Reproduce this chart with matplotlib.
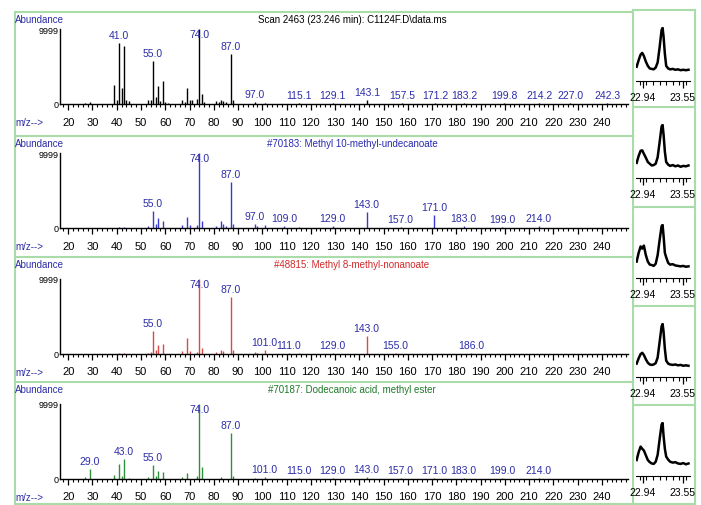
import matplotlib
matplotlib.use("Agg")
import matplotlib.pyplot as plt
from matplotlib.ticker import FixedLocator

W, H = 701, 506
plt.rcParams["font.family"] = ["Liberation Sans", "DejaVu Sans"]

# ---------------- spectra: m/z and relative abundance (%) ----------------
scan_mz = [27, 29, 39, 40, 41, 42, 43, 44, 45, 53, 54, 55, 56, 57, 58, 59, 60, 61,
           67, 68, 69, 70, 71, 73, 74, 75, 76, 81, 82, 83, 84, 85, 87, 88, 97.0, 101,
           115.1, 129.1, 143.1, 157.5, 171.2, 183.2, 199.8, 214.2, 227.0, 242.3]
scan_ab = [2, 3, 25, 5, 81, 22, 77, 5, 4, 5, 6, 58, 9, 24, 4, 31, 3, 2,
           6, 3, 21, 6, 5, 7, 100, 13, 3, 4, 3, 6, 4, 3, 67, 6, 3, 2,
           1.5, 1.5, 5, 1, 1.5, 1, 1, 1.5, 1, 1]
scan_lbl = [41.0, 55.0, 74.0, 87.0, 97.0, 115.1, 129.1, 143.1, 157.5, 171.2,
            183.2, 199.8, 214.2, 227.0, 242.3]

hit1_mz = [41, 43, 53, 55, 56, 57, 59, 67, 69, 70, 73, 74, 75, 81, 83, 84, 85, 87,
           88, 97, 98, 101, 109, 115, 129, 143, 157, 171, 183, 199, 214]
hit1_ab = [2, 2, 3, 23, 5, 13, 10, 4, 15, 4, 4, 100, 9, 3, 9, 5, 3, 62,
           6, 5, 3, 4, 3, 1, 3, 21, 2, 17, 3, 1.5, 3]
hit1_lbl = [55, 74, 87, 97, 109, 129, 143, 157, 171, 183, 199, 214]

hit2_mz = [41, 43, 53, 54, 55, 56, 57, 59, 67, 69, 70, 73, 74, 75, 81, 83, 84, 87,
           88, 97, 98, 101, 111, 115, 129, 143, 155, 186]
hit2_ab = [2, 2, 2, 3, 31, 5, 12, 14, 4, 22, 4, 3, 100, 8, 3, 6, 4, 76,
           5, 3, 2, 5, 2, 1, 2, 24, 2, 1]
hit2_lbl = [55, 74, 87, 101, 111, 129, 143, 155, 186]

hit3_mz = [27, 29, 39, 41, 42, 43, 45, 53, 55, 56, 57, 59, 67, 69, 73, 74, 75, 83,
           87, 88, 97, 101, 115, 129, 143, 157, 171, 183, 199, 214]
hit3_ab = [3, 13, 5, 20, 4, 27, 2, 3, 19, 4, 11, 9, 3, 8, 4, 100, 16, 3,
           62, 4, 2, 3, 1.5, 2, 3, 1, 2, 2, 1, 2]
hit3_lbl = [29, 43, 55, 74, 87, 101, 115, 129, 143, 157, 171, 183, 199, 214]

titles = ["Scan 2463 (23.246 min): C1124F.D\\data.ms",
          "#70183: Methyl 10-methyl-undecanoate",
          "#48815: Methyl 8-methyl-nonanoate",
          "#70187: Dodecanoic acid, methyl ester"]
title_colors = ["black", "#2a2ab0", "#d02a2a", "#1f7a2a"]
bar_colors = ["black", "#3a3ad0", "#d84a4a", "#2f8f3a"]

# ---------------- ion chromatograms (normalised) ----------------
rt = [22.85, 22.88, 22.91, 22.935, 22.96, 22.99, 23.02, 23.05, 23.08, 23.11,
      23.14, 23.17, 23.20, 23.23, 23.245, 23.26, 23.28, 23.30, 23.33, 23.36,
      23.40, 23.44, 23.48, 23.52, 23.56, 23.60, 23.64]
tic = [
    [0.10, 0.25, 0.38, 0.42, 0.35, 0.22, 0.12, 0.06, 0.05, 0.04, 0.08, 0.20, 0.55,
     0.95, 1.00, 0.80, 0.40, 0.12, 0.06, 0.04, 0.05, 0.03, 0.04, 0.02, 0.03, 0.02, 0.03],
    [0.12, 0.28, 0.40, 0.41, 0.33, 0.24, 0.14, 0.10, 0.06, 0.07, 0.10, 0.25, 0.60,
     0.96, 1.00, 0.78, 0.38, 0.14, 0.08, 0.05, 0.07, 0.04, 0.06, 0.03, 0.05, 0.04, 0.06],
    [0.15, 0.35, 0.50, 0.45, 0.52, 0.30, 0.15, 0.08, 0.07, 0.05, 0.10, 0.30, 0.65,
     0.97, 1.00, 0.75, 0.35, 0.25, 0.12, 0.08, 0.09, 0.06, 0.05, 0.04, 0.05, 0.03, 0.04],
    [0.08, 0.20, 0.30, 0.33, 0.28, 0.18, 0.10, 0.06, 0.05, 0.06, 0.09, 0.22, 0.58,
     0.94, 1.00, 0.82, 0.42, 0.15, 0.08, 0.06, 0.05, 0.06, 0.04, 0.05, 0.03, 0.04, 0.03],
    [0.14, 0.32, 0.45, 0.40, 0.36, 0.25, 0.14, 0.09, 0.06, 0.05, 0.10, 0.26, 0.62,
     0.96, 1.00, 0.70, 0.40, 0.22, 0.15, 0.10, 0.08, 0.09, 0.06, 0.05, 0.07, 0.04, 0.06],
]

spectra = [(scan_mz, scan_ab, scan_lbl), (hit1_mz, hit1_ab, hit1_lbl),
           (hit2_mz, hit2_ab, hit2_lbl), (hit3_mz, hit3_ab, hit3_lbl)]

fig = plt.figure(figsize=(W / 100, H / 100), dpi=100)


def axes_px(x0, y0, x1, y1):
    return fig.add_axes([x0 / W, 1 - y1 / H, (x1 - x0) / W, (y1 - y0) / H])


# background layer in pixel coordinates: frames and loose text
bg = axes_px(0, 0, W, H)
bg.set_xlim(0, W)
bg.set_ylim(H, 0)
bg.axis("off")
bg.set_zorder(-1)

frame = "#a9dca9"
panel_tops = [13, 137, 258, 383, 505]
for y in panel_tops:
    bg.plot([15, 633], [y, y], color=frame, lw=1.5)
bg.plot([15, 15], [13, 505], color=frame, lw=1.5)
box_tops = [11, 108, 208, 307, 406, 505]
for y in box_tops:
    bg.plot([633, 695], [y, y], color=frame, lw=1.5)
bg.plot([633, 633], [11, 505], color=frame, lw=1.5)
bg.plot([695, 695], [11, 505], color=frame, lw=1.5)

label_blue = "#2c2ca8"
baselines = [105, 229, 355, 480]

for i, (mz, ab, lbl) in enumerate(spectra):
    base = baselines[i]
    top = panel_tops[i]
    ax = axes_px(60, base - 75, 628, base)
    ax.vlines(mz, 0, ab, color=bar_colors[i], lw=1.0)
    for m in lbl:
        h = ab[mz.index(m)]
        if h >= 95:
            ax.text(m, h, f"{m:.1f}", ha="center", va="top", fontsize=7.5,
                    color=label_blue, clip_on=False)
        else:
            ax.annotate(f"{m:.1f}", (m, h), xytext=(0, 2), textcoords="offset points",
                        ha="center", va="bottom", fontsize=7.5, color=label_blue,
                        annotation_clip=False)
    ax.set_xlim(16.6, 250.8)
    ax.set_ylim(0, 100)
    for s in ["top", "right"]:
        ax.spines[s].set_visible(False)
    ax.spines["left"].set_linewidth(1.0)
    ax.spines["bottom"].set_linewidth(1.0)
    ax.xaxis.set_major_locator(FixedLocator(list(range(20, 250, 10))))
    ax.xaxis.set_minor_locator(FixedLocator(list(range(18, 251, 2))))
    ax.tick_params(axis="x", which="major", length=4, width=0.9, pad=5, labelsize=8)
    ax.tick_params(axis="x", which="minor", length=2.5, width=0.8)
    ax.set_yticks([0, 100])
    ax.set_yticklabels(["0", "9999"])
    ax.tick_params(axis="y", length=0, pad=1, labelsize=6.5)
    ax.patch.set_alpha(0)

    bg.text(15, top + 7, "Abundance", fontsize=7, color=label_blue, va="center", ha="left")
    bg.text(15, base + 18, "m/z-->", fontsize=7, color=label_blue, va="center", ha="left")
    bg.text(352, top + 7, titles[i], fontsize=7, color=title_colors[i],
            va="center", ha="center")

for j, y in enumerate(tic):
    t = box_tops[j]
    cax = axes_px(636, t + 17, 690, t + 71)
    cax.plot(rt, y, color="black", lw=1.8)
    cax.set_xlim(22.84, 23.663)
    cax.set_ylim(-0.23, 1.02)
    for s in ["top", "right", "left"]:
        cax.spines[s].set_visible(False)
    cax.set_yticks([])
    cax.xaxis.set_major_locator(FixedLocator([22.94, 23.55]))
    cax.xaxis.set_minor_locator(FixedLocator([22.9, 23.0, 23.1, 23.2, 23.3, 23.4, 23.5, 23.6]))
    cax.tick_params(axis="x", which="major", length=5, width=0.9, pad=3, labelsize=7.5)
    cax.tick_params(axis="x", which="minor", length=3, width=0.8)
    cax.patch.set_alpha(0)

fig.savefig("out.png", dpi=100)
